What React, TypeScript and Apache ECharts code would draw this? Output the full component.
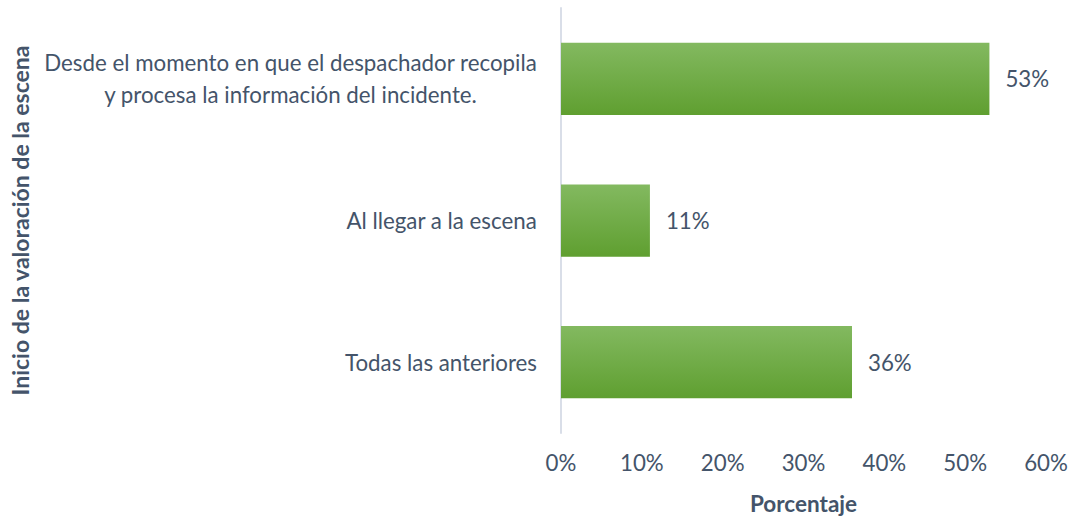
import React, { useEffect, useRef } from "react";
import * as echarts from "echarts";

const categories = [
  "Desde el momento en que el despachador recopila\ny procesa la información del incidente.",
  "Al llegar a la escena",
  "Todas las anteriores",
];
const values = [53, 11, 36];
const xTicks = [0, 10, 20, 30, 40, 50, 60];

const FONT = "Lato, 'Open Sans', sans-serif";
const TXT = "#44546a";
const FS = 22.3;

export default function App() {
  const ref = useRef<HTMLDivElement>(null);
  useEffect(() => {
    if (!ref.current) return;
    const chart = echarts.init(ref.current, null, { renderer: "svg" });
    chart.setOption({
      animation: false,
      textStyle: { fontFamily: FONT },
      grid: { left: 561, right: 27, top: 8, bottom: 81, containLabel: false },
      xAxis: {
        type: "value",
        min: xTicks[0],
        max: xTicks[xTicks.length - 1],
        interval: 10,
        name: "Porcentaje",
        nameLocation: "middle",
        nameGap: 59,
        nameTextStyle: { color: TXT, fontSize: 22.5, fontWeight: "bold", fontFamily: FONT },
        axisLine: { show: false },
        axisTick: { show: false },
        splitLine: { show: false },
        axisLabel: {
          color: TXT,
          fontSize: FS,
          fontFamily: FONT,
          margin: 18,
          formatter: (v: number) => `${v}%`,
        },
      },
      yAxis: {
        type: "category",
        data: categories,
        inverse: true,
        name: "Inicio de la valoración de la escena",
        nameLocation: "middle",
        nameGap: 530,
        nameRotate: 90,
        nameTextStyle: { color: TXT, fontSize: 23, fontWeight: "bold", fontFamily: FONT },
        axisLine: { show: true, lineStyle: { color: "#d9dee8", width: 2 } },
        axisTick: { show: false },
        axisLabel: {
          color: TXT,
          fontSize: FS,
          fontFamily: FONT,
          margin: 24,
          lineHeight: 32,
          formatter: (v: string) =>
            v
              .split("\n")
              .map((l) => `{c|${l}}`)
              .join("\n"),
          rich: {
            c: { align: "center", color: TXT, fontSize: FS, fontFamily: FONT, lineHeight: 32 },
          },
        },
      },
      series: [
        {
          type: "bar",
          data: values,
          barWidth: "51%",
          itemStyle: {
            color: new echarts.graphic.LinearGradient(0, 0, 0, 1, [
              { offset: 0, color: "#83b960" },
              { offset: 1, color: "#5f9f30" },
            ]),
          },
          label: {
            show: true,
            position: "right",
            distance: 16,
            color: TXT,
            fontSize: FS,
            fontFamily: FONT,
            formatter: (p: any) => `${p.value}%`,
          },
        },
      ],
    });
    return () => chart.dispose();
  }, []);
  return (
    <div
      ref={ref}
      style={{ position: "absolute", left: 0, top: 0, width: 1073, height: 520 }}
    />
  );
}
